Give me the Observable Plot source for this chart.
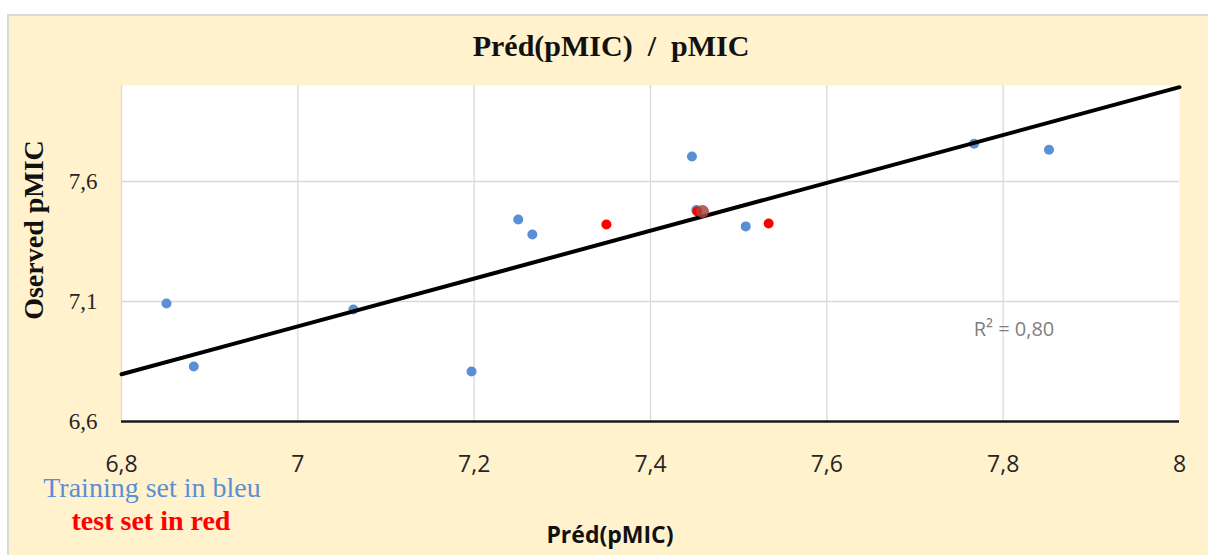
<!DOCTYPE html>
<html><head><meta charset="utf-8">
<script src="https://cdn.jsdelivr.net/npm/d3@7"></script>
<script src="https://cdn.jsdelivr.net/npm/@observablehq/plot@0.6"></script>
<style>
body{margin:0;background:#fff;}
#wrap{position:relative;width:1208px;height:555px;overflow:hidden;background:#fff;}
#bg{position:absolute;left:7px;top:14px;right:0;bottom:0;background:#FFF2CC;border-left:2px solid #D9D9D9;border-top:2px solid #D9D9D9;}
#chart{position:absolute;left:0;top:0;}
.lbl{position:absolute;transform:translate(-50%,-50%);white-space:pre;line-height:1;}
.tight{line-height:0.6;}
</style></head><body>
<div id="wrap">
  <div id="bg"></div>
  <div id="chart"></div>
  <div class="lbl" style="left:611px;top:46px;font-family:'Liberation Serif',serif;font-weight:bold;font-size:30px;color:#111;">Préd(pMIC)  /  pMIC</div>
  <div class="lbl" style="left:34px;top:230px;transform:translate(-50%,-50%) rotate(-90deg);font-family:'Liberation Serif',serif;font-weight:bold;font-size:28px;color:#111;">Oserved pMIC</div>
  <div class="lbl" style="left:610px;top:534px;font-family:'Open Sans',sans-serif;font-weight:bold;font-size:23px;color:#111;">Préd(pMIC)</div>
  <div class="lbl tight" style="left:152px;top:488px;font-family:'Liberation Serif',serif;font-size:28px;color:#5B8FD5;">Training set in bleu</div>
  <div class="lbl tight" style="left:151px;top:521px;font-family:'Liberation Serif',serif;font-weight:bold;font-size:28px;color:#FF0000;">test set in red</div>
  <div class="lbl" style="left:1014px;top:329px;font-family:'Open Sans',sans-serif;font-size:20px;color:#7F7F7F;">R² = 0,80</div>
</div>
<script>
// Axis ticks and domains
const xTicks = [6.8, 7.0, 7.2, 7.4, 7.6, 7.8, 8.0];
const yTicks = [6.6, 7.1, 7.6];
const yDomain = [6.6, 8.0];

// Training set (blue): predicted pMIC, observed pMIC
const trainPred = [6.851, 6.882, 7.063, 7.197, 7.250, 7.266, 7.447, 7.452, 7.508, 7.767, 7.852];
const trainObs  = [7.092, 6.829, 7.067, 6.808, 7.442, 7.379, 7.704, 7.481, 7.413, 7.757, 7.732];

// Test set (red)
const testPred = [7.350, 7.453, 7.534];
const testObs  = [7.421, 7.475, 7.425];

// Overlapping (brownish) point
const overlapPred = [7.459];
const overlapObs  = [7.475];

// Trend line end points
const trendPred = [6.8, 8.0];
const trendObs  = [6.797, 7.993];

const toRows = (xs, ys) => xs.map((x, i) => ({x, y: ys[i]}));
const fmt = d => String(+(+d).toFixed(1)).replace(".", ",");

const chart = Plot.plot({
  width: 1208, height: 555,
  marginLeft: 121, marginRight: 29, marginTop: 85, marginBottom: 134,
  style: {background: "transparent", overflow: "visible"},
  x: {domain: [xTicks[0], xTicks[xTicks.length - 1]]},
  y: {domain: yDomain},
  marks: [
    Plot.frame({fill: "white", stroke: "none"}),
    Plot.ruleX(xTicks.filter(t => t < xTicks[xTicks.length - 1]), {stroke: "#D9D9D9", strokeWidth: 1.3}),
    Plot.ruleY(yTicks.slice(1), {stroke: "#D9D9D9", strokeWidth: 1.3}),
    Plot.axisX(xTicks, {tickSize: 0, tickPadding: 34, tickFormat: fmt, fontSize: 23, fontFamily: "Open Sans", fill: "#262626", label: null}),
    Plot.axisY(yTicks, {tickSize: 0, tickPadding: 24, tickFormat: fmt, fontSize: 23, fontFamily: "Liberation Serif", fill: "#262626", label: null}),
    Plot.ruleY([yDomain[0]], {stroke: "#1a1a1a", strokeWidth: 2.5}),
    Plot.dot(toRows(trainPred, trainObs), {x: "x", y: "y", r: 5, fill: "#5B8FD5"}),
    Plot.dot(toRows(testPred, testObs), {x: "x", y: "y", r: 5, fill: "#FF0000"}),
    Plot.line(toRows(trendPred, trendObs), {x: "x", y: "y", stroke: "#000", strokeWidth: 4}),
    Plot.dot(toRows(overlapPred, overlapObs), {x: "x", y: "y", r: 6.5, fill: "#A8453F", fillOpacity: 0.85})
  ]
});
document.getElementById("chart").appendChild(chart);
</script>
</body></html>
